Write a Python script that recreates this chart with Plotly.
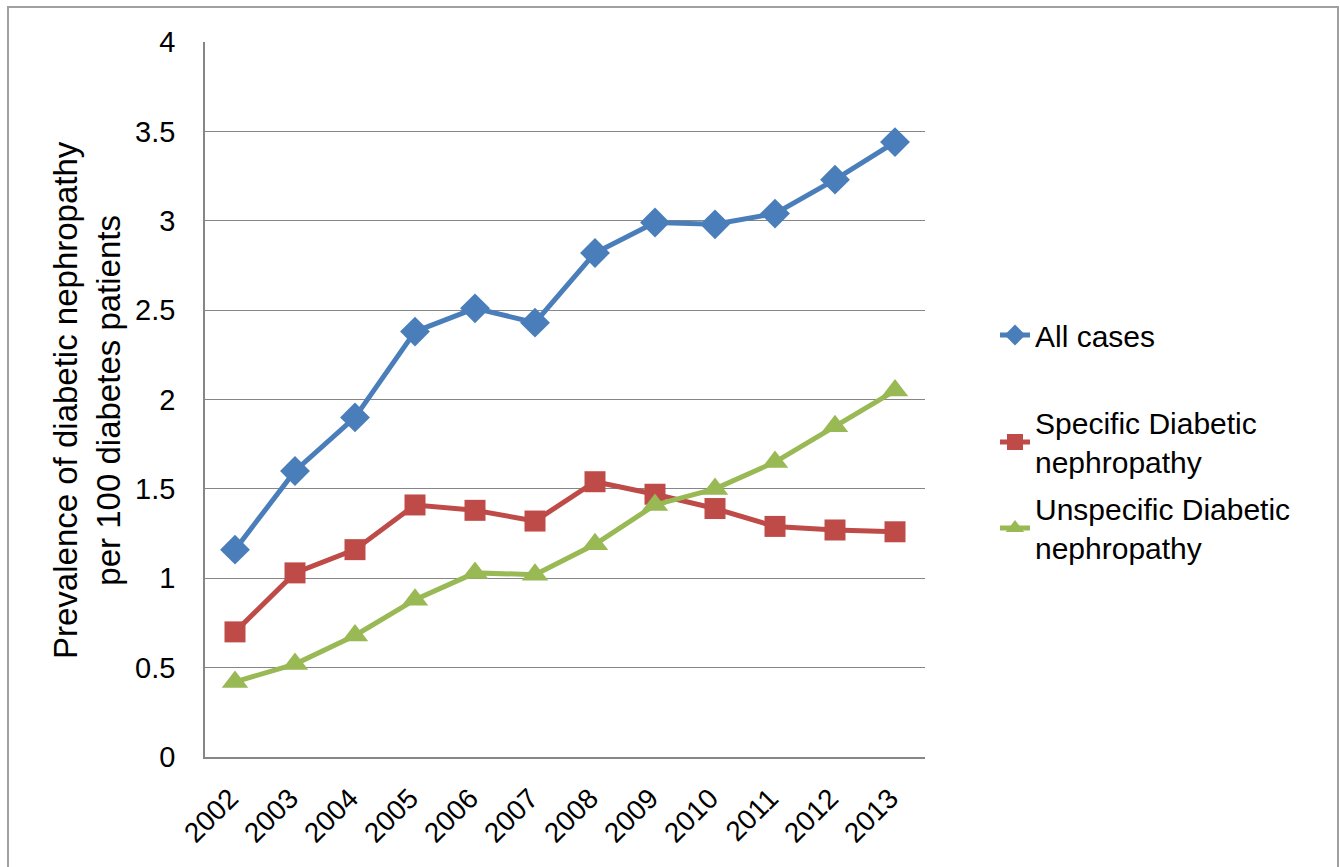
import plotly.graph_objects as go

years = ["2002", "2003", "2004", "2005", "2006", "2007", "2008", "2009", "2010", "2011", "2012", "2013"]
all_cases = [1.16, 1.60, 1.90, 2.38, 2.51, 2.43, 2.82, 2.99, 2.98, 3.04, 3.23, 3.44]
specific = [0.70, 1.03, 1.16, 1.41, 1.38, 1.32, 1.54, 1.47, 1.39, 1.29, 1.27, 1.26]
unspecific = [0.42, 0.52, 0.68, 0.88, 1.03, 1.02, 1.19, 1.41, 1.50, 1.65, 1.85, 2.05]
y_ticks = [0, 0.5, 1, 1.5, 2, 2.5, 3, 3.5, 4]
y_tick_text = ["0", "0.5", "1", "1.5", "2", "2.5", "3", "3.5", "4"]

series = [
    ("All cases", all_cases, "#4A7EBB", "diamond", 23, "legend"),
    ("Specific Diabetic<br>nephropathy", specific, "#BE4B48", "square", 21, "legend2"),
    ("Unspecific Diabetic<br>nephropathy", unspecific, "#98B954", "triangle-up", 23, "legend3"),
]

fig = go.Figure()
for name, vals, col, sym, sz, lg in series:
    fig.add_trace(go.Scatter(
        x=years, y=vals, name=name, mode="lines+markers",
        line=dict(color=col, width=5),
        marker=dict(symbol=sym, size=sz, color=col),
        legend=lg,
    ))

# plot area in pixels: x 205..925, y 42..757
L, R, T, B = 205, 925, 42, 757
W, H = 1340, 867
pw, ph = R - L, B - T

def px_x(p):
    return (p - L) / pw

def px_y(p):
    return (B - p) / ph

def leg(ycenter):
    return dict(
        x=px_x(995), y=px_y(ycenter), xanchor="left", yanchor="middle",
        font=dict(size=30), bgcolor="rgba(0,0,0,0)", itemwidth=30,
    )

fig.update_layout(
    width=W, height=H,
    margin=dict(l=L, r=W - R, t=T, b=H - B, pad=0),
    paper_bgcolor="white", plot_bgcolor="white",
    font=dict(family="Liberation Sans, Arial, sans-serif", size=29, color="#000000"),
    showlegend=True,
    legend=leg(335),
    legend2=leg(442),
    legend3=leg(528),
    xaxis=dict(
        type="category", range=[-0.5, 11.5], showgrid=False,
        showline=True, linecolor="#868686", linewidth=1.5,
        ticks="", tickangle=-45, tickfont=dict(size=28),
        ticklabelstandoff=12, ticklabelshift=-5,
        zeroline=False,
    ),
    yaxis=dict(
        range=[0, 4], tickvals=y_ticks, ticktext=y_tick_text,
        showgrid=True, gridcolor="#868686", gridwidth=1.2,
        showline=True, linecolor="#868686", linewidth=1.5,
        ticks="", ticklabelstandoff=22, tickfont=dict(size=29),
        zeroline=False,
    ),
    annotations=[dict(
        text="Prevalence of diabetic nephropathy<br>per 100 diabetes patients",
        xref="paper", yref="paper", x=px_x(87), y=px_y(400),
        xanchor="center", yanchor="middle", textangle=-90, showarrow=False,
        font=dict(size=33),
    )],
    shapes=[dict(
        type="rect", xref="paper", yref="paper",
        x0=px_x(8), x1=px_x(1338), y0=px_y(880), y1=px_y(7),
        line=dict(color="#A0A0A0", width=2), layer="below",
    )],
)

fig.write_html(
    "out.html",
    config={"displayModeBar": False},
    post_script="document.body.style.margin='0';document.body.style.overflow='hidden';",
)
